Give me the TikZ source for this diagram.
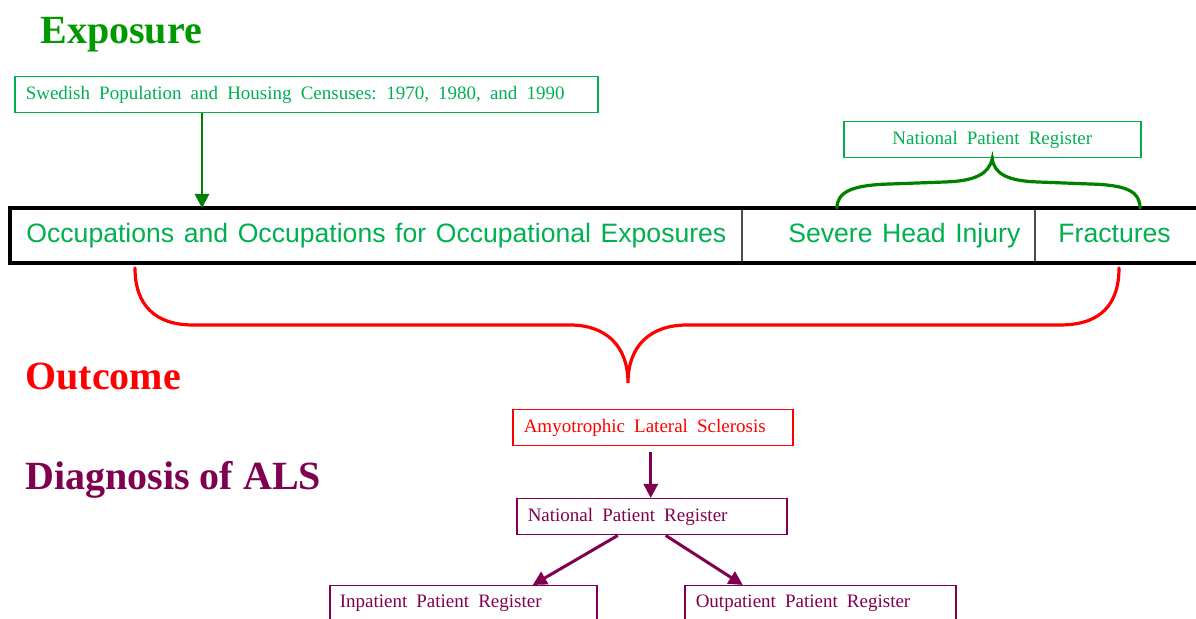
\documentclass[tikz,border=0pt]{standalone}
\usepackage{fontspec}
\setmainfont{Liberation Serif}
\newfontfamily\arialfont{Liberation Sans}
\usepackage{xcolor}
\usepackage{tikz}
\usetikzlibrary{arrows.meta}
\definecolor{txtgreen}{RGB}{0,176,80}
\definecolor{headgreen}{RGB}{0,153,0}
\definecolor{darkgreen}{RGB}{0,128,0}
\definecolor{alsred}{RGB}{255,0,0}
\definecolor{diagpurple}{RGB}{128,0,80}

\tikzset{
  heading/.style={anchor=base west, inner sep=0pt, font=\fontsize{20}{24}\selectfont\bfseries},
  srcbox/.style={draw, line width=0.75pt, anchor=north west, minimum height=18pt, inner xsep=5.5pt,
    align=left, font=\fontsize{9.5}{11}\selectfont,
    execute at begin node={\spaceskip=.48em\relax}},
  cell/.style={anchor=north west, minimum height=27pt, inner sep=0pt, text=txtgreen,
    text height=9.6pt, text depth=2.8pt,
    font=\arialfont\fontsize{13.3}{16}\selectfont,
    execute at begin node={\spaceskip=.36em\relax}},
  brace/.style={line width=1.6pt, line cap=round},
  darrow/.style={line width=1.5pt, -{Triangle[length=7pt,width=7pt]}},
}

\begin{document}
\begin{tikzpicture}[x=0.5pt, y=-0.5pt]
\useasboundingbox (0,0) rectangle (1196,619);

\node[heading, text=headgreen] (exposure) at (40,44) {Exposure};
\node[heading, text=alsred] (outcome) at (25,390) {Outcome};
\node[heading, text=diagpurple] (diagnosis) at (25,490) {Diagnosis of ALS};

\node[srcbox, draw=txtgreen, text=txtgreen, text width=280.5pt, minimum height=18pt] (census) at (14,76)
  {Swedish Population and Housing Censuses: 1970, 1980, and 1990};
\node[srcbox, draw=txtgreen, text=txtgreen, minimum width=148.5pt, align=center] (npr) at (843,121)
  {National Patient Register};

\node[cell, minimum width=366pt] (occ) at (10,208) {Occupations and Occupations for Occupational Exposures};
\node[cell, text width=131.5pt, inner xsep=7.5pt, align=right] (head) at (742,208) {Severe Head Injury};
\node[cell, text width=64.5pt, inner xsep=11.5pt, align=left] (fract) at (1035,208) {Fractures};
\draw[black!70, line width=0.7pt] (head.north west) -- (head.south west);
\draw[black!70, line width=0.7pt] (fract.north west) -- (fract.south west);
\draw[black, line width=2pt] (fract.north east) -- (occ.north west) -- (occ.south west) -- (fract.south east);

\draw[darkgreen, darrow, line width=1.4pt] ([xshift=94pt]census.south west) -- ([xshift=96pt]occ.north west);

\draw[darkgreen, brace] (837,208) .. controls (837,192) and (852,185) .. (890,184)
  -- (945,182) .. controls (975,181) and (989,174) .. (npr.south)
  .. controls (994,174) and (1008,181) .. (1038,182)
  -- (1090,184) .. controls (1128,185) and (1140,192) .. (1140,208);

\draw[alsred, brace] (135,268) .. controls (135,305) and (155,325) .. (193,325)
  -- (570,325) .. controls (605,325) and (628,345) .. (628,383)
  .. controls (628,345) and (651,325) .. (687,325)
  -- (1060,325) .. controls (1100,325) and (1119,305) .. (1119,268);

\node[srcbox, draw=alsred, text=alsred, text width=129pt] (als) at (512,409) {Amyotrophic Lateral Sclerosis};
\node[srcbox, draw=diagpurple, text=diagpurple, text width=124pt] (npr2) at (516,498) {National Patient Register};
\node[srcbox, draw=diagpurple, text=diagpurple, text width=123.5pt, inner xsep=5pt] (inpat) at (329,585) {Inpatient Patient Register};
\node[srcbox, draw=diagpurple, text=diagpurple, text width=124.5pt] (outpat) at (684,585) {Outpatient Patient Register};

\draw[diagpurple, darrow, shorten <=3pt] ([xshift=-1pt]als.south) -- ([xshift=-0.5pt]npr2.north);
\draw[diagpurple, darrow] ([xshift=-17pt]npr2.south) -- ([xshift=34.75pt]inpat.north);
\draw[diagpurple, darrow] ([xshift=7pt]npr2.south) -- ([xshift=-38.75pt]outpat.north);
\end{tikzpicture}
\end{document}
